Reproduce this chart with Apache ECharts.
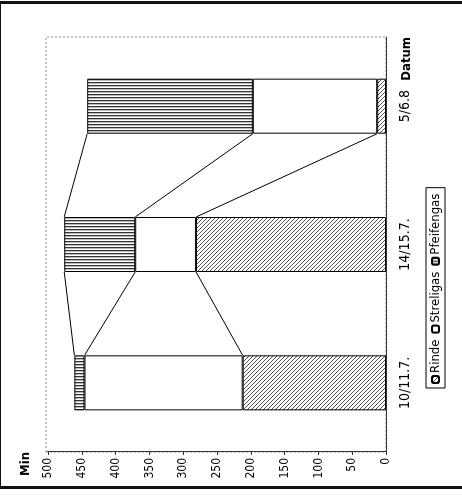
<!DOCTYPE html>
<html>
<head>
<meta charset="utf-8">
<script src="https://cdn.jsdelivr.net/npm/echarts@6/dist/echarts.min.js"></script>
<style>
  html, body { margin: 0; padding: 0; background: #fff; }
  #page { position: relative; width: 462px; height: 497px; overflow: hidden; background: #fff; }
  /* chart is drawn upright, then turned a quarter to the left like the scan */
  #chart { position: absolute; left: 0; top: 0; width: 497px; height: 462px;
           transform-origin: 0 0; transform: translate(0, 497px) rotate(-90deg); }
  .rule { position: absolute; background: #111; }
</style>
</head>
<body>
<div id="page">
  <div id="chart"></div>
  <div class="rule" style="left:0;top:1px;width:462px;height:3px"></div>
  <div class="rule" style="left:0;top:486px;width:462px;height:3px"></div>
  <div class="rule" style="left:0;top:4px;width:1px;height:482px"></div>
</div>
<script>
// Stapel je Messtag (Minuten)
const categories = ['10/11.7.', '14/15.7.', '5/6.8'];
const rinde = [212, 281, 13];
const streligas = [234, 90, 184];
const pfeifengas = [15, 105, 245];
const seriesNames = ['Rinde', 'Streligas', 'Pfeifengas'];

const valueMin = 0;
const valueMax = 500;
const valueStep = 50;

const FONT = '"Liberation Sans Narrow", "DejaVu Sans Condensed", "Liberation Sans", sans-serif';
const BAR_W = 55;

// small fill patterns
function makePattern(w, h, draw) {
  const c = document.createElement('canvas');
  c.width = w; c.height = h;
  const ctx = c.getContext('2d');
  ctx.fillStyle = '#fff';
  ctx.fillRect(0, 0, w, h);
  draw(ctx);
  return { image: c, repeat: 'repeat' };
}
const diagFill = makePattern(4, 4, (ctx) => {
  ctx.fillStyle = '#555';
  for (let i = 0; i < 4; i++) ctx.fillRect(i, i, 1, 1);
});
const lineFill = makePattern(3, 3, (ctx) => {
  ctx.fillStyle = '#333';
  ctx.fillRect(0, 0, 1, 3);
  ctx.fillStyle = '#bbb';
  ctx.fillRect(2, 0, 1, 3);
});

const stacks = [rinde, streligas, pfeifengas];
function cum(level, i) {
  let s = 0;
  for (let k = 0; k <= level; k++) s += stacks[k][i];
  return s;
}

const chart = echarts.init(document.getElementById('chart'), null, { renderer: 'canvas' });

const barStyle = (color) => ({ color: color, borderColor: '#000', borderWidth: 1 });

chart.setOption({
  animation: false,
  backgroundColor: '#fff',
  textStyle: { fontFamily: FONT },
  grid: { left: 45, right: 37, top: 48, bottom: 76 },
  legend: {
    data: seriesNames,
    left: 109,
    top: 426,
    itemWidth: 7,
    itemHeight: 7,
    itemGap: 6,
    padding: [3, 6, 3, 4],
    borderColor: '#000',
    borderWidth: 1,
    textStyle: { fontFamily: FONT, fontSize: 13, color: '#000', padding: [0, 0, 0, -2] }
  },
  xAxis: {
    type: 'category',
    data: categories,
    name: 'Datum',
    nameLocation: 'end',
    nameGap: 0,
    nameTextStyle: { fontFamily: FONT, fontSize: 13, fontWeight: 'bold', color: '#000',
                     align: 'right', verticalAlign: 'top', padding: [14, 0, 0, 0] },
    axisLine: { lineStyle: { color: '#333', width: 1 } },
    axisTick: { length: 4, lineStyle: { color: '#333' } },
    axisLabel: { fontFamily: FONT, fontSize: 14, color: '#000', margin: 12 }
  },
  yAxis: {
    type: 'value',
    min: valueMin,
    max: valueMax,
    interval: valueStep,
    name: 'Min',
    nameLocation: 'end',
    nameGap: 16,
    nameTextStyle: { fontFamily: FONT, fontSize: 13, fontWeight: 'bold', color: '#000', align: 'right' },
    axisLine: { show: true, lineStyle: { color: '#333', width: 1 } },
    axisTick: { show: true, length: 3, lineStyle: { color: '#333' } },
    axisLabel: { fontFamily: FONT, fontSize: 12, color: '#000', margin: 6 },
    splitLine: { show: false }
  },
  graphic: [{
    type: 'rect',
    shape: { x: 45, y: 46, width: 415, height: 340 },
    style: { fill: null, stroke: '#888', lineWidth: 1, lineDash: [2, 2] },
    silent: true,
    z: -1
  }],
  series: [
    { name: seriesNames[0], type: 'bar', stack: 'a', data: rinde, barWidth: BAR_W, itemStyle: barStyle(diagFill) },
    { name: seriesNames[1], type: 'bar', stack: 'a', data: streligas, barWidth: BAR_W, itemStyle: barStyle('#fff') },
    { name: seriesNames[2], type: 'bar', stack: 'a', data: pfeifengas, barWidth: BAR_W, itemStyle: barStyle(lineFill) },
    {
      // Verbindungslinien zwischen den Stapeln
      type: 'custom',
      silent: true,
      data: [[0, 0], [1, 0]],
      renderItem: function (params, api) {
        const i = api.value(0);
        const children = [];
        for (let k = 0; k < stacks.length; k++) {
          const a = api.coord([i, cum(k, i)]);
          const b = api.coord([i + 1, cum(k, i + 1)]);
          children.push({
            type: 'line',
            shape: { x1: a[0] + BAR_W / 2, y1: a[1], x2: b[0] - BAR_W / 2, y2: b[1] },
            style: { stroke: '#000', lineWidth: 1 }
          });
        }
        return { type: 'group', children: children };
      }
    }
  ]
});
</script>
</body>
</html>
